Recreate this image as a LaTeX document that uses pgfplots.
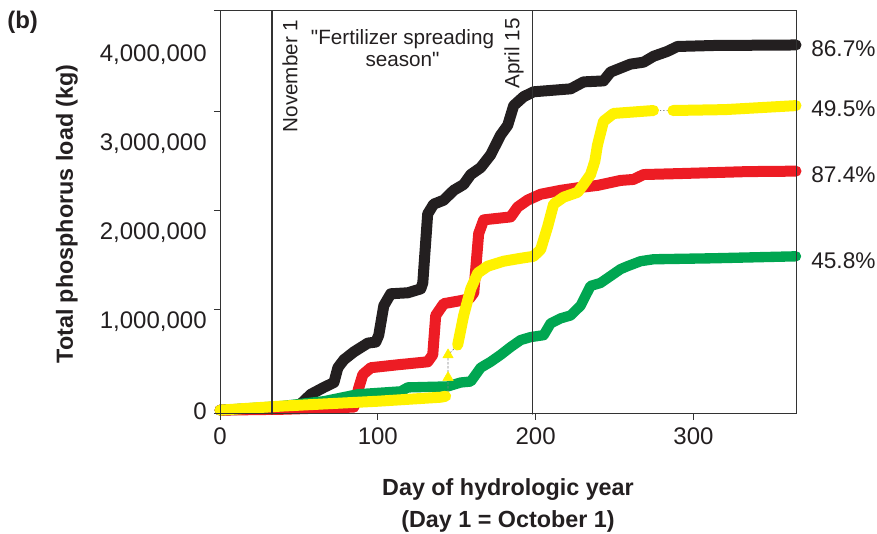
\documentclass[border=0pt]{standalone}
\usepackage{fontspec}
\setmainfont{Liberation Sans}
\newfontfamily\plainsans{Liberation Sans}
\usepackage{pgfplots}
\pgfplotsset{compat=1.18}
\definecolor{cblack}{HTML}{231F20}
\definecolor{cred}{HTML}{ED1C24}
\definecolor{cyellow}{HTML}{FFF200}
\definecolor{cgreen}{HTML}{00A651}
\definecolor{axiscol}{HTML}{333333}
\definecolor{textcol}{HTML}{231F20}
\begin{document}
\begin{tikzpicture}
\path[use as bounding box] (-165pt,-90pt) rectangle (492.75pt,310.5pt);
\begin{axis}[
  at={(0,0)}, anchor=south west,
  scale only axis, width=432pt, height=302.25pt,
  xmin=0, xmax=365, ymin=-33150, ymax=4486000,
  clip=false, axis on top,
  axis line style={draw=axiscol, line width=0.75pt},
  tick align=outside, tick pos=left,
  major tick length=4.5pt,
  tick style={draw=axiscol, line width=0.75pt},
  xtick={0,100,200,300},
  ytick={0,1000000,2000000,3000000,4000000},
  yticklabels={0,{1,000,000},{2,000,000},{3,000,000},{4,000,000}},
  ytick style={draw=none},
  extra y ticks={-33150,1138000,2254000,3359000,4486000},
  extra y tick labels={},
  extra y tick style={ytick style={draw=axiscol, line width=0.75pt}},
  scaled y ticks=false,
  /pgf/number format/assume math mode=true,
  ticklabel style={font=\fontsize{18}{20}\selectfont, text=textcol},
  xticklabel style={yshift=-2.5pt},
  yticklabel style={xshift=-2pt},
  every axis plot/.append style={line cap=round, line join=round},
]
% black
\addplot[cblack, line width=8.25pt] coordinates {
(0,10000) (45,40000) (51,77000) (57.6,188000) (65.8,265000) (72.2,320000) (74.7,486000)
(78.5,575000) (84.8,663000) (93.7,762000) (98.7,773000) (100.6,851000)
(103.8,1182000) (108.2,1315000) (119,1326000) (127.2,1370000) (128.5,1436000)
(131.6,2210000) (135.4,2320000) (141.8,2365000) (148.1,2475000) (154.4,2541000)
(158.9,2652000) (165.2,2730000) (171.5,2873000) (177.8,3094000) (182.3,3204000)
(186.1,3425000) (192.4,3525000) (198.7,3580000) (222.2,3613000) (230.4,3691000)
(243,3702000) (247.5,3801000) (260.1,3890000) (268.4,3912000) (274.7,3978000)
(283.5,4033000) (289.9,4088000) (312.7,4099000) (365,4105000)};
% red
\addplot[cred, line width=8.25pt] coordinates {
(0,10000) (40,20000) (84.8,44000) (88,265000) (90.5,409000) (95.6,486000)
(112.7,519000) (131.6,552000) (134.8,630000) (136.7,1072000) (141.8,1204000)
(152.5,1238000) (158,1260000) (160.8,1326000) (163.9,1989000) (167.1,2144000)
(184.2,2177000) (188.6,2287000) (194.9,2365000) (203.2,2431000) (215.8,2475000)
(228.5,2508000) (239.2,2530000) (253.8,2586000) (262,2597000) (268.4,2652000)
(291.8,2663000) (334.2,2685000) (365,2690000)};
% green
\addplot[cgreen, line width=7.75pt] coordinates {
(0,10000) (38.6,55000) (65.8,110000) (87.3,188000) (114.6,221000) (119,265000)
(144.3,276000) (152.5,320000) (158.9,331000) (165.2,486000) (171.5,552000)
(177.8,630000) (184.2,718000) (190.5,796000) (196.8,829000) (205.1,851000)
(209.5,983000) (215.8,1039000) (222.2,1072000) (228.5,1182000) (234.8,1403000)
(241.1,1436000) (247.5,1514000) (253.8,1591000) (258.2,1624000) (266.5,1680000)
(274.7,1702000) (312.7,1713000) (365,1735000)};
% yellow connectors
\addplot[gray, line width=0.5pt, dash pattern=on 1.5pt off 1.5pt] coordinates {
(144.5,166000) (144.5,630000) (150.6,740000)};
\addplot[gray, line width=0.5pt, dotted] coordinates {(274.7,3370000) (287,3370000)};
% yellow
\addplot[cyellow, line width=8.25pt] coordinates {
(0,10000) (38.6,55000) (100,110000) (139.9,155000) (143,166000)};
\addplot[only marks, mark=triangle*, mark size=4.5pt, mark options={fill=cyellow, draw=cyellow}] coordinates {
(144.5,375000) (144.5,630000)};
\addplot[cyellow, line width=8.25pt] coordinates {
(150.6,740000) (154.4,1072000) (158.9,1370000) (163.3,1547000) (169.6,1624000)
(179.7,1680000) (190.5,1713000) (198.7,1735000) (203.2,1812000) (207.6,2066000)
(211.4,2320000) (217.7,2398000) (226.6,2453000) (230.4,2541000) (234.8,2652000)
(237.5,2800000) (239.2,2983000) (243,3249000) (249.4,3337000) (274.7,3370000)};
\addplot[cyellow, line width=8.25pt] coordinates {
(287,3370000) (320,3380000) (365,3425000)};
% season lines
\addplot[axiscol, line width=0.9pt] coordinates {(33,-33150) (33,4486000)};
\addplot[axiscol, line width=0.9pt] coordinates {(198,-33150) (198,4486000)};
\end{axis}
\node[anchor=west, inner sep=0, text=textcol, font=\bfseries\fontsize{18}{20}\selectfont] at (-159.75pt,294pt) {(b)};
\node[rotate=90, text=textcol, font=\bfseries\fontsize{17.5}{20}\selectfont] at (-114.75pt,150pt) {Total phosphorus load (kg)};
\node[align=center, text=textcol, font=\bfseries\fontsize{17.5}{24}\selectfont] at (216pt,-68.25pt) {Day of hydrologic year\\(Day 1 = October 1)};
\node[rotate=90, text=textcol, font=\fontsize{15.5}{18}\selectfont] at (52.5pt,253.5pt) {November 1};
\node[rotate=90, text=textcol, font=\fontsize{15.5}{18}\selectfont] at (220.5pt,270.4pt) {April 15};
\node[align=center, text=textcol, font=\plainsans\fontsize{15.5}{16.5}\selectfont] at (136.9pt,274.5pt) {"Fertilizer spreading\\season"};
\begin{scope}[every node/.style={anchor=west, inner sep=0, text=textcol, font=\fontsize{17}{20}\selectfont}]
\node at (443.25pt,273.75pt) {86.7\%};
\node at (443.25pt,228.75pt) {49.5\%};
\node at (443.25pt,179.25pt) {87.4\%};
\node at (443.25pt,114.75pt) {45.8\%};
\end{scope}
\end{tikzpicture}
\end{document}
